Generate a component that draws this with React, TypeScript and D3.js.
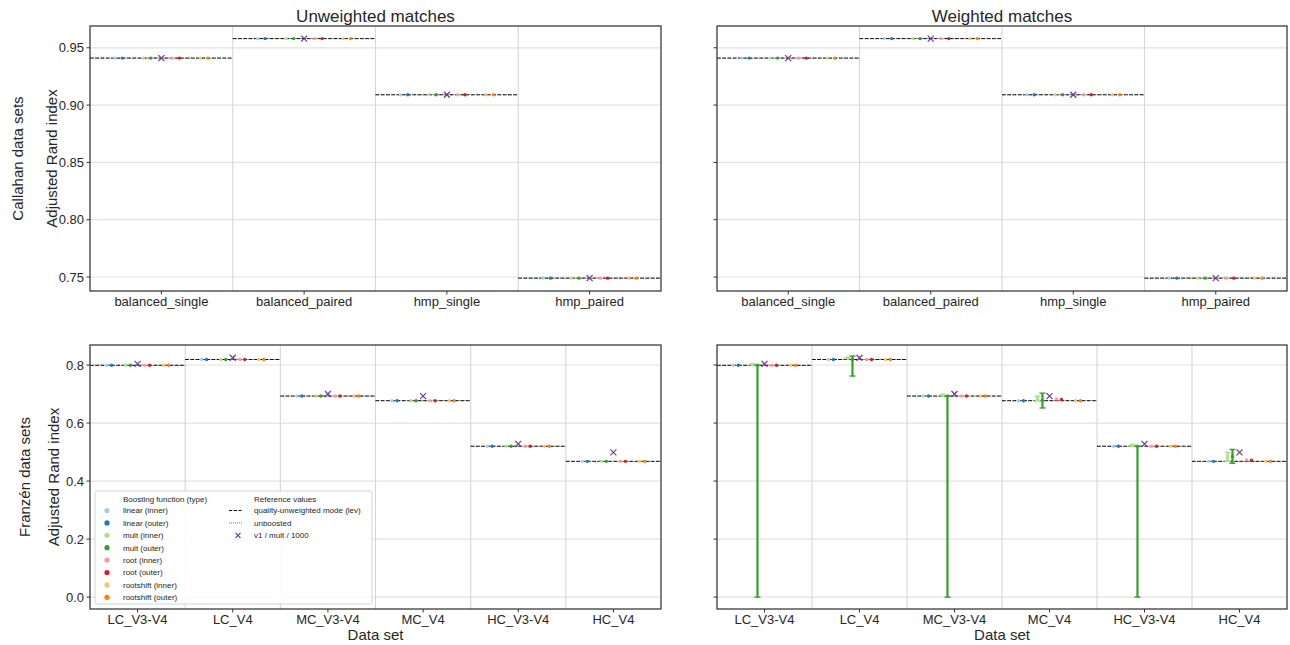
import React from 'react';
import * as d3 from 'd3';

// Callahan data sets (top row)
const callahanSets = ['balanced_single', 'balanced_paired', 'hmp_single', 'hmp_paired'];
const callahanLev = [0.941, 0.958, 0.909, 0.749];
const callahanUnboosted = [0.941, 0.958, 0.909, 0.749];
const callahanV1 = [0.941, 0.958, 0.909, 0.749];
const callahanBoosted = [0.941, 0.958, 0.909, 0.749];

// Franzén data sets (bottom row)
const franzenSets = ['LC_V3-V4', 'LC_V4', 'MC_V3-V4', 'MC_V4', 'HC_V3-V4', 'HC_V4'];
const franzenLev = [0.799, 0.819, 0.693, 0.677, 0.520, 0.468];
const franzenUnboosted = [0.799, 0.819, 0.693, 0.677, 0.520, 0.468];
const franzenV1 = [0.804, 0.825, 0.700, 0.693, 0.528, 0.499];
const franzenBoosted = [0.799, 0.819, 0.693, 0.677, 0.520, 0.468];

// weighted Franzén, where the boosting changes something
const wMultInner = [0.802, 0.824, 0.697, 0.685, 0.524, 0.483];
const wMultInnerLo = [0.800, 0.822, 0.695, 0.677, 0.520, 0.467];
const wMultInnerHi = [0.804, 0.826, 0.699, 0.693, 0.526, 0.499];
const wMultOuter = [0.799, 0.819, 0.693, 0.678, 0.520, 0.485];
const wMultOuterLo = [0.0, 0.762, 0.0, 0.652, 0.0, 0.461];
const wMultOuterHi = [0.799, 0.831, 0.693, 0.703, 0.520, 0.509];
const wRootInner = [0.799, 0.819, 0.693, 0.683, 0.520, 0.473];
const wRootOuter = [0.799, 0.819, 0.693, 0.681, 0.520, 0.472];

const boostNames = ['linear (inner)', 'linear (outer)', 'mult (inner)', 'mult (outer)',
  'root (inner)', 'root (outer)', 'rootshift (inner)', 'rootshift (outer)'];
const boostColors = ['#a6cee3', '#1f78b4', '#b2df8a', '#33a02c', '#fb9a99', '#e31a1c', '#fdbf6f', '#ff7f00'];
const xColor = '#6a3d9a';

const callahanTicks = [0.75, 0.80, 0.85, 0.90, 0.95];
const franzenTicks = [0.0, 0.2, 0.4, 0.6, 0.8];

const FONT = '"Liberation Sans", Arial, "DejaVu Sans", sans-serif';
const FRAME = '#333333';

type Err = { idx: number, lo: number[], hi: number[] };

const XMark = ({ x, y, s = 3 }) => (
  <g stroke={xColor} strokeWidth={1.2}>
    <line x1={x - s} y1={y - s} x2={x + s} y2={y + s} />
    <line x1={x - s} y1={y + s} x2={x + s} y2={y - s} />
  </g>
);

const Panel = ({ x0, y0, w, h, cats, domain, ticks, fmt, lev, unboosted, v1, series, errs, showYLabels, title, xLabel }:
  { x0: number, y0: number, w: number, h: number, cats: string[], domain: number[], ticks: number[], fmt: string,
    lev: number[], unboosted: number[], v1: number[], series: number[][], errs: Err[], showYLabels: boolean,
    title?: string, xLabel?: string }) => {
  const xs = d3.scaleBand().domain(cats).range([x0, x0 + w]).padding(0);
  const ys = d3.scaleLinear().domain(domain).range([y0 + h, y0]);
  const bw = xs.bandwidth();
  const f = d3.format(fmt);
  const offset = (i: number) => (Math.floor(i / 2) - 1.5) * bw / 5 + (i % 2 === 0 ? -1 : 1) * bw * 0.026;

  return (
    <g>
      {/* horizontal grid */}
      {ticks.map(t => (
        <line key={'g' + t} x1={x0} x2={x0 + w} y1={ys(t)} y2={ys(t)} stroke="#e2e2e2" strokeWidth={1.2} />
      ))}
      {/* band separators */}
      {cats.slice(1).map(c => (
        <line key={'s' + c} x1={xs(c)} x2={xs(c)} y1={y0} y2={y0 + h} stroke="#d6d6d6" strokeWidth={1.1} />
      ))}
      {/* reference lines */}
      {cats.map((c, i) => (
        <g key={'r' + c}>
          <line x1={xs(c)} x2={xs(c)! + bw} y1={ys(unboosted[i])} y2={ys(unboosted[i])}
            stroke="#777" strokeWidth={1} strokeDasharray="1,1.6" />
          <line x1={xs(c)} x2={xs(c)! + bw} y1={ys(lev[i])} y2={ys(lev[i])}
            stroke="#111" strokeWidth={1} strokeDasharray="3.7,1.6" />
        </g>
      ))}
      {/* boosted points */}
      {series.map((vals, si) => cats.map((c, i) => (
        <circle key={'p' + si + c} cx={xs(c)! + bw / 2 + offset(si)} cy={ys(vals[i])} r={1.7} fill={boostColors[si]} />
      )))}
      {/* error bars */}
      {errs.map(e => cats.map((c, i) => {
        const cx = xs(c)! + bw / 2 + offset(e.idx);
        const lw = e.idx === 2 ? 2.6 : 2.2;
        return (
          <g key={'e' + e.idx + c} stroke={boostColors[e.idx]} strokeWidth={lw}>
            <line x1={cx} x2={cx} y1={ys(e.lo[i])} y2={ys(e.hi[i])} />
            <line x1={cx - 3} x2={cx + 3} y1={ys(e.lo[i])} y2={ys(e.lo[i])} strokeWidth={1.4} />
            <line x1={cx - 3} x2={cx + 3} y1={ys(e.hi[i])} y2={ys(e.hi[i])} strokeWidth={1.4} />
          </g>
        );
      }))}
      {/* v1 markers */}
      {cats.map((c, i) => (
        <XMark key={'x' + c} x={xs(c)! + bw / 2} y={ys(v1[i])} />
      ))}
      {/* frame */}
      <rect x={x0} y={y0} width={w} height={h} fill="none" stroke={FRAME} strokeWidth={1.25} />
      {/* y ticks */}
      {ticks.map(t => (
        <g key={'yt' + t}>
          <line x1={x0 - 3.5} x2={x0} y1={ys(t)} y2={ys(t)} stroke={FRAME} strokeWidth={1} />
          {showYLabels && (
            <text x={x0 - 6} y={ys(t)} dy="0.35em" textAnchor="end" fontSize={13} fill="#262626">{f(t)}</text>
          )}
        </g>
      ))}
      {/* x ticks */}
      {cats.map(c => (
        <g key={'xt' + c}>
          <line x1={xs(c)! + bw / 2} x2={xs(c)! + bw / 2} y1={y0 + h} y2={y0 + h + 3.5} stroke={FRAME} strokeWidth={1} />
          <text x={xs(c)! + bw / 2} y={y0 + h + 15} textAnchor="middle" fontSize={13} fill="#262626">{c}</text>
        </g>
      ))}
      {title && (
        <text x={x0 + w / 2} y={y0 - 4} textAnchor="middle" fontSize={17} fill="#262626">{title}</text>
      )}
      {xLabel && (
        <text x={x0 + w / 2} y={y0 + h + 31} textAnchor="middle" fontSize={15} fill="#262626">{xLabel}</text>
      )}
    </g>
  );
};

const Legend = ({ x, y }) => {
  const rowH = 12.4;
  return (
    <g fontSize={8} fill="#262626">
      <rect x={x} y={y} width={277} height={113} rx={2.5} fill="white" fillOpacity={0.85} stroke="#cfcfcf" strokeWidth={0.9} />
      <text x={x + 28} y={y + 8} dy="0.35em">Boosting function (type)</text>
      {boostNames.map((n, i) => (
        <g key={n}>
          <circle cx={x + 12} cy={y + 19.5 + i * rowH} r={2.6} fill={boostColors[i]} />
          <text x={x + 28} y={y + 19.5 + i * rowH} dy="0.35em">{n}</text>
        </g>
      ))}
      <text x={x + 159} y={y + 8} dy="0.35em">Reference values</text>
      <line x1={x + 134} x2={x + 148} y1={y + 19.5} y2={y + 19.5} stroke="#111" strokeWidth={1} strokeDasharray="3.2,1.5" />
      <text x={x + 159} y={y + 19.5} dy="0.35em">quality-unweighted mode (lev)</text>
      <line x1={x + 134} x2={x + 148} y1={y + 19.5 + rowH} y2={y + 19.5 + rowH} stroke="#777" strokeWidth={1} strokeDasharray="1,1" />
      <text x={x + 159} y={y + 19.5 + rowH} dy="0.35em">unboosted</text>
      <XMark x={x + 143} y={y + 19.5 + 2 * rowH} s={2.5} />
      <text x={x + 159} y={y + 19.5 + 2 * rowH} dy="0.35em">v1 / mult / 1000</text>
    </g>
  );
};

const App = () => {
  const callSeries = boostNames.map(() => callahanBoosted);
  const franSeries = boostNames.map(() => franzenBoosted);
  const franWSeries = [franzenBoosted, franzenBoosted, wMultInner, wMultOuter, wRootInner, wRootOuter, franzenBoosted, franzenBoosted];
  const franWErrs: Err[] = [
    { idx: 2, lo: wMultInnerLo, hi: wMultInnerHi },
    { idx: 3, lo: wMultOuterLo, hi: wMultOuterHi },
  ];
  const topDomain = [0.7378, 0.969];
  const botDomain = [-0.041, 0.869];

  return (
    <svg width={1290} height={645} style={{ position: 'absolute', left: 0, top: 0, background: 'white' }} fontFamily={FONT}>
      <Panel x0={90} y0={26} w={571} h={265} cats={callahanSets} domain={topDomain} ticks={callahanTicks} fmt=".2f"
        lev={callahanLev} unboosted={callahanUnboosted} v1={callahanV1} series={callSeries} errs={[]}
        showYLabels={true} title="Unweighted matches" />
      <Panel x0={717} y0={26} w={570} h={265} cats={callahanSets} domain={topDomain} ticks={callahanTicks} fmt=".2f"
        lev={callahanLev} unboosted={callahanUnboosted} v1={callahanV1} series={callSeries} errs={[]}
        showYLabels={false} title="Weighted matches" />
      <Panel x0={90} y0={345} w={571} h={264} cats={franzenSets} domain={botDomain} ticks={franzenTicks} fmt=".1f"
        lev={franzenLev} unboosted={franzenUnboosted} v1={franzenV1} series={franSeries} errs={[]}
        showYLabels={true} xLabel="Data set" />
      <Panel x0={717} y0={345} w={570} h={264} cats={franzenSets} domain={botDomain} ticks={franzenTicks} fmt=".1f"
        lev={franzenLev} unboosted={franzenUnboosted} v1={franzenV1} series={franWSeries} errs={franWErrs}
        showYLabels={false} xLabel="Data set" />
      <Legend x={95} y={491} />
      <text transform="translate(57,158.5) rotate(-90)" textAnchor="middle" fontSize={15} fill="#262626">Adjusted Rand index</text>
      <text transform="translate(59,477) rotate(-90)" textAnchor="middle" fontSize={15} fill="#262626">Adjusted Rand index</text>
      <text transform="translate(23,158.5) rotate(-90)" textAnchor="middle" fontSize={15} fill="#262626">Callahan data sets</text>
      <text transform="translate(30,477) rotate(-90)" textAnchor="middle" fontSize={15} fill="#262626">Franzén data sets</text>
    </svg>
  );
};

export default App;
